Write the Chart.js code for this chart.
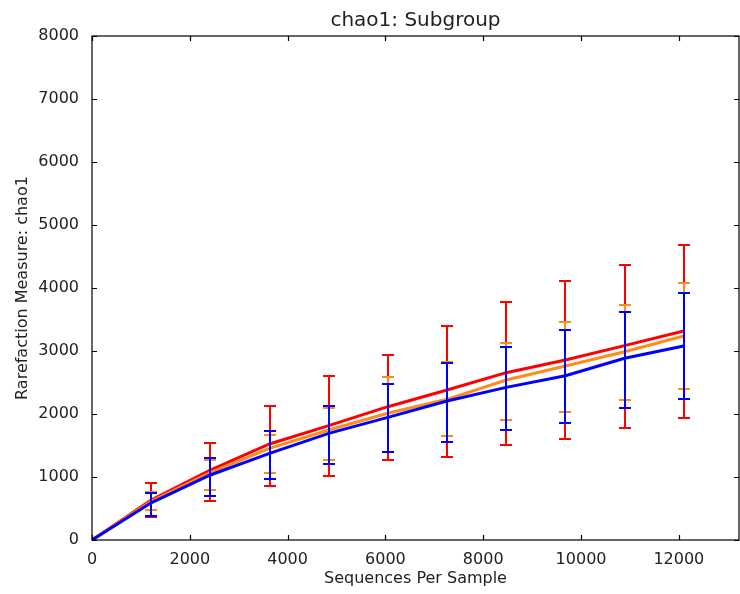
<!DOCTYPE html>
<html>
<head>
<meta charset="utf-8">
<script src="https://cdn.jsdelivr.net/npm/chart.js@4.4.1/dist/chart.umd.min.js"></script>
<style>
  html, body { margin: 0; padding: 0; background: #fff; }
  #wrap { width: 740px; height: 594px; }
</style>
</head>
<body>
<div id="wrap"><canvas id="chart"></canvas></div>
<script>
// Sequences per sample (x)
const depths = [0, 1210, 2420, 3630, 4840, 6050, 7260, 8470, 9680, 10890, 12100];

// Red series
const redMean = [0, 635, 1111, 1524, 1815, 2116, 2381, 2656, 2857, 3085, 3317];
const redHigh = [null, 909, 1535, 2132, 2600, 2940, 3397, 3783, 4111, 4365, 4683];
const redLow  = [null, 360, 619, 857, 1021, 1265, 1322, 1508, 1598, 1773, 1931];

// Orange series
const orangeMean = [0, 615, 1068, 1455, 1746, 2011, 2233, 2540, 2762, 2989, 3238];
const orangeHigh = [null, 762, 1270, 1667, 2090, 2590, 2830, 3132, 3465, 3730, 4074];
const orangeLow  = [null, 481, 798, 1058, 1265, 1402, 1656, 1905, 2037, 2222, 2397];

// Blue series
const blueMean = [0, 590, 1032, 1376, 1693, 1947, 2206, 2423, 2608, 2884, 3079];
const blueHigh = [null, 751, 1306, 1730, 2132, 2471, 2815, 3069, 3333, 3624, 3915];
const blueLow  = [null, 386, 703, 973, 1201, 1402, 1556, 1746, 1862, 2090, 2243];

const xTicks = [0, 2000, 4000, 6000, 8000, 10000, 12000];
const yTicks = [0, 1000, 2000, 3000, 4000, 5000, 6000, 7000, 8000];

const FONT = "'DejaVu Sans', sans-serif";
const TEXT = '#222';

function points(mean) {
    return depths.map((d, i) => ({ x: d, y: mean[i] }));
}

function makeSeries(label, color, mean, high, low, order) {
    return {
        label: label,
        data: points(mean),
        errHigh: high,
        errLow: low,
        errColor: color,
        borderColor: color,
        backgroundColor: color,
        borderWidth: 3,
        pointRadius: 0,
        tension: 0,
        fill: false,
        order: order
    };
}

// error bars drawn right after each line, so later series sit on top
const errorBars = {
    id: 'errorBars',
    afterDatasetDraw(chart, args) {
        const ds = chart.data.datasets[args.index];
        if (!ds.errHigh) return;
        const { ctx, scales: { x, y } } = chart;
        const cap = 6;
        ctx.save();
        ctx.strokeStyle = ds.errColor;
        ctx.lineWidth = 2;
        ds.data.forEach((pt, i) => {
            if (ds.errHigh[i] == null) return;
            const px = Math.round(x.getPixelForValue(pt.x));
            const top = Math.round(y.getPixelForValue(ds.errHigh[i]));
            const bot = Math.round(y.getPixelForValue(ds.errLow[i]));
            ctx.beginPath();
            ctx.moveTo(px, top); ctx.lineTo(px, bot);
            ctx.moveTo(px - cap, top); ctx.lineTo(px + cap, top);
            ctx.moveTo(px - cap, bot); ctx.lineTo(px + cap, bot);
            ctx.stroke();
        });
        ctx.restore();
    }
};

// matplotlib-style box with inward ticks on all four sides
const frame = {
    id: 'frame',
    afterDraw(chart) {
        const { ctx, chartArea: a, scales: { x, y } } = chart;
        const len = 5;
        ctx.save();
        ctx.strokeStyle = '#000';
        ctx.lineWidth = 1.2;
        ctx.strokeRect(a.left, a.top, a.right - a.left, a.bottom - a.top);
        ctx.beginPath();
        xTicks.forEach(v => {
            const px = Math.round(x.getPixelForValue(v)) + 0.5;
            ctx.moveTo(px, a.bottom); ctx.lineTo(px, a.bottom - len);
            ctx.moveTo(px, a.top); ctx.lineTo(px, a.top + len);
        });
        yTicks.forEach(v => {
            const py = Math.round(y.getPixelForValue(v)) + 0.5;
            ctx.moveTo(a.left, py); ctx.lineTo(a.left + len, py);
            ctx.moveTo(a.right, py); ctx.lineTo(a.right - len, py);
        });
        ctx.stroke();
        ctx.restore();
    }
};

new Chart(document.getElementById('chart'), {
    type: 'line',
    data: {
        datasets: [
            makeSeries('Red', '#ff0000', redMean, redHigh, redLow, 3),
            makeSeries('Orange', '#ff8c1a', orangeMean, orangeHigh, orangeLow, 2),
            makeSeries('Blue', '#0000ff', blueMean, blueHigh, blueLow, 1)
        ]
    },
    options: {
        responsive: true,
        maintainAspectRatio: false,
        animation: false,
        layout: { padding: { right: 1, top: 0, left: 0, bottom: 0 } },
        plugins: {
            legend: { display: false },
            tooltip: { enabled: false },
            title: {
                display: true,
                text: 'chao1: Subgroup',
                fullSize: false,
                color: TEXT,
                font: { family: FONT, size: 20, weight: 'normal' },
                padding: { top: 9, bottom: 3 }
            }
        },
        scales: {
            x: {
                type: 'linear',
                min: 0,
                max: 13230,
                afterBuildTicks: (s) => { s.ticks = xTicks.map(v => ({ value: v })); },
                afterFit: (s) => { s.height = 54; },
                grid: { display: false },
                border: { display: false },
                ticks: {
                    color: TEXT,
                    font: { family: FONT, size: 16 },
                    padding: 2,
                    maxRotation: 0,
                    autoSkip: false,
                    callback: (v) => String(v)
                },
                title: {
                    display: true,
                    text: 'Sequences Per Sample',
                    color: TEXT,
                    font: { family: FONT, size: 16 },
                    padding: { top: 0, bottom: 6 }
                }
            },
            y: {
                min: 0,
                max: 8000,
                afterBuildTicks: (s) => { s.ticks = yTicks.map(v => ({ value: v })); },
                afterFit: (s) => { s.width = 92; },
                grid: { display: false },
                border: { display: false },
                ticks: {
                    color: TEXT,
                    font: { family: FONT, size: 16 },
                    padding: 5,
                    callback: (v) => String(v)
                },
                title: {
                    display: true,
                    text: 'Rarefaction Measure: chao1',
                    color: TEXT,
                    font: { family: FONT, size: 16 },
                    padding: { top: 13, bottom: 0 }
                }
            }
        }
    },
    plugins: [errorBars, frame]
});
</script>
</body>
</html>
